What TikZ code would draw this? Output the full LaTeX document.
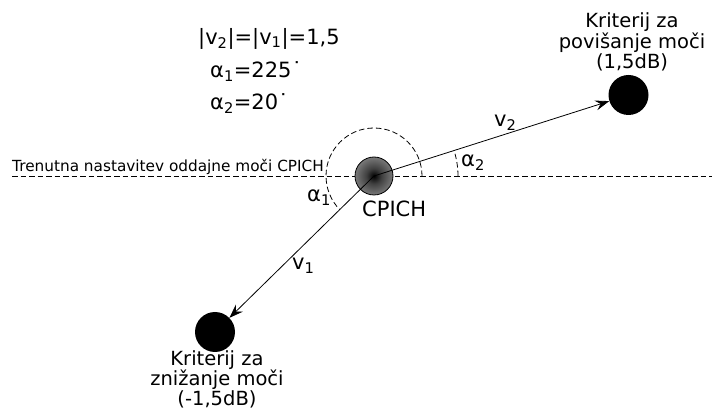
\documentclass[tikz,border=0pt]{standalone}
\usepackage{fontspec}
\setmainfont{DejaVu Sans}
\usetikzlibrary{arrows.meta,calc}

\pgfdeclareradialshading{cpichshade}{\pgfpoint{0bp}{0bp}}{color(0bp)=(black); color(10bp)=(black!75); color(50bp)=(black!15); color(72bp)=(white)}

\begin{document}
\begin{tikzpicture}[x=1pt, y=1pt,
    dashln/.style={dash pattern=on 5.5pt off 3pt, line width=0.8pt},
    vec/.style={-{Stealth[length=14pt, width=10pt, inset=5pt]}, line width=0.8pt},
    crit/.style={circle, fill=black, inner sep=0pt, minimum size=40pt},
    big/.style={font=\fontsize{21}{24}\selectfont, inner sep=0pt},
    lbl/.style={font=\fontsize{19.5}{18.5}\selectfont, align=center, inner sep=0pt}]
    \useasboundingbox (0, 0) rectangle (716, 410);
    % reference line
    \draw[dashln] (12, 234) -- (712, 234);
    \node[anchor=base west, inner sep=0pt, font=\fontsize{15.3}{18}\selectfont] (ref) at (12, 238.3) {Trenutna nastavitev oddajne moči CPICH};
    % CPICH and criteria
    \node[circle, draw, line width=0.8pt, minimum size=38pt, inner sep=0pt, shading=cpichshade] (cpich) at (374, 234) {};
    \node[crit] (hi) at (628.5, 315) {};
    \node[crit] (lo) at (215, 78) {};
    \node[anchor=base west, big] (cpichlbl) at (362, 193.3) {CPICH};
    \node[lbl, anchor=north] (hilbl) at (632, 397.5) {Kriterij za\\povišanje moči\\(1,5dB)};
    \node[lbl, anchor=north] (lolbl) at (217, 60) {Kriterij za\\znižanje moči\\(-1,5dB)};
    % vectors
    \draw[vec] (cpich.center) -- (hi);
    \draw[vec] (cpich.center) -- (lo);
    \node[anchor=base west, big] (vtwo) at (494, 283) {v\textsubscript{2}};
    \node[anchor=base west, big] (vone) at (292, 140) {v\textsubscript{1}};
    % angles
    \draw[dashln] (cpich.center) ++(0:48) arc[start angle=0, end angle=224.5, radius=48];
    \draw[dashln] (cpich.center) ++(0:84) arc[start angle=0, end angle=17.65, radius=84];
    \node[anchor=base west, big] (aone) at (307, 208) {α\textsubscript{1}};
    \node[anchor=base west, big] (atwo) at (461, 243) {α\textsubscript{2}};
    % values
    \node[anchor=base west, big] (norm) at (198, 365.7) {|v\textsubscript{2}|=|v\textsubscript{1}|=1,5};
    \node[anchor=base west, big] (aoneval) at (210, 332) {α\textsubscript{1}=225˙};
    \node[anchor=base west, big] (atwoval) at (210, 300) {α\textsubscript{2}=20˙};
\end{tikzpicture}
\end{document}
